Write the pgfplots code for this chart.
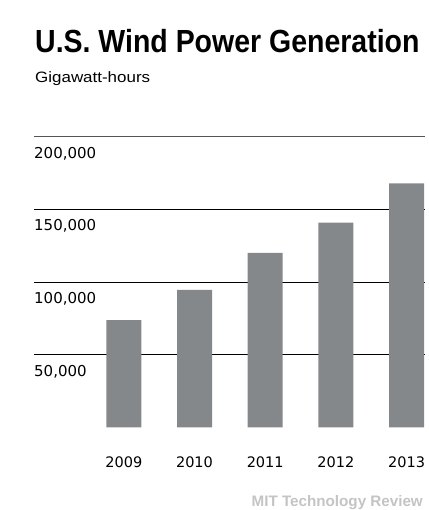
\documentclass[border=0pt]{standalone}
\usepackage{pgfplots}
\pgfplotsset{compat=1.18}
\usepackage{fontspec}
\setmainfont{Liberation Sans}
\newfontfamily\numfont{DejaVu Sans}
\definecolor{bargray}{HTML}{85888B}
\definecolor{topline}{HTML}{555555}
\definecolor{brand}{HTML}{C4C4C4}
\begin{document}
\begin{tikzpicture}
\begin{axis}[
  scale only axis, width=391pt, height=290.8pt,
  xmin=-1.27, xmax=4.26, ymin=0, ymax=200000,
  axis line style={draw=none},
  major tick length=0pt,
  scaled y ticks=false,
  ytick={50000,100000,150000},
  yticklabels={50{,}000,100{,}000,150{,}000},
  ymajorgrids, grid style={black, line width=0.9pt},
  yticklabel style={anchor=north west, inner sep=0pt, yshift=-10pt, font=\numfont\fontsize{15}{18}\selectfont},
  xtick=data, xticklabels={2009,2010,2011,2012,2013},
  xticklabel style={anchor=north, inner sep=0pt, yshift=-29.2pt, font=\numfont\fontsize{14.5}{17}\selectfont},
  /pgf/number format/assume math mode=true,
  clip=false,
]
\addplot[ybar, bar width=35pt, fill=bargray, draw=none] coordinates {(0,73886) (1,94652) (2,120177) (3,140822) (4,167840)};
\draw[topline, line width=1.5pt] (axis cs:-1.27,200000) -- (axis cs:4.26,200000);
\node[anchor=north west, inner sep=0pt, font=\numfont\fontsize{15}{18}\selectfont] at ([yshift=-10pt]axis cs:-1.27,200000) {200,000};
\path (rel axis cs:-0.08696,-0.28370) rectangle (rel axis cs:1.01023,1.47008);
\node[anchor=base west, inner sep=0pt] at (rel axis cs:0.00256,1.28886) {\scalebox{0.89}[1]{\fontsize{32}{36}\selectfont\bfseries U.S. Wind Power Generation}};
\node[anchor=base west, inner sep=0pt] at (rel axis cs:0.00256,1.18569) {\scalebox{1.13}[1]{\fontsize{15}{18}\selectfont Gigawatt-hours}};
\node[anchor=base east, inner sep=0pt, text=brand] at (rel axis cs:0.99488,-0.27235) {\fontsize{15.2}{18}\selectfont\bfseries MIT Technology Review};
\end{axis}
\end{tikzpicture}
\end{document}
